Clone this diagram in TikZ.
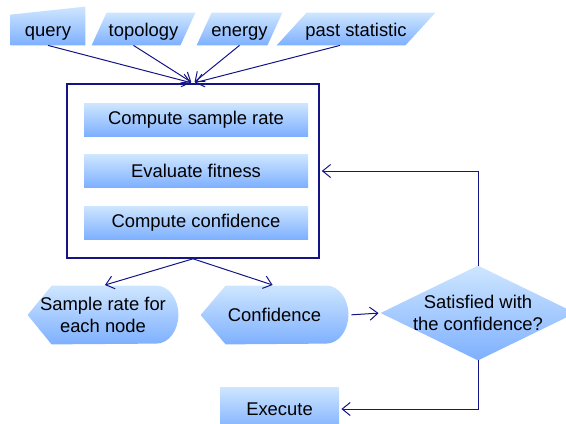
\documentclass[tikz,border=0pt]{standalone}
\usepackage{fontspec}
\setmainfont{Liberation Sans}
\usetikzlibrary{arrows.meta,backgrounds}
\definecolor{flowblue}{RGB}{20,20,135}
\definecolor{shtop}{RGB}{206,230,255}
\definecolor{shbot}{RGB}{126,176,255}
\tikzset{
  shaded/.style={top color=shtop,bottom color=shbot},
  txt/.style={inner sep=0pt,align=center,font=\fontsize{9.2}{11}\selectfont},
  inbox/.style={txt,minimum height=16pt,text height=9pt,text depth=2pt},
  stepbox/.style={txt,shaded,minimum width=112pt,minimum height=16.5pt},
  flow/.style={draw=flowblue,line width=0.5pt,-{Straight Barb[length=4pt,width=6.5pt]},shorten >=1pt}
}
\begin{document}
\begin{tikzpicture}[x=0.5pt,y=-0.5pt]
\useasboundingbox (0,0) rectangle (566,423);
\clip (0,0) rectangle (566,423);
% inputs
\node[inbox,minimum width=37pt] (query) at (48,29) {query};
\node[inbox,minimum width=51.5pt] (topology) at (143.5,29) {topology};
\node[inbox,minimum width=42.5pt] (energy) at (239.5,29) {energy};
\node[inbox,minimum width=79pt] (past) at (356,29) {past statistic};
% main box
\node[draw=flowblue,line width=0.8pt,minimum width=126pt,minimum height=87pt] (proc) at (193,171) {};
\foreach \n/\y/\t in {csr/119.5/Compute sample rate,evf/171/Evaluate fitness,ccf/222.5/Compute confidence}{\node[stepbox] (\n) at (196,\y) {\t};}
% outputs
\node[txt,minimum width=75pt,minimum height=29pt] (rate) at (103,315) {\raisebox{-1.5pt}{Sample rate for}\\\raisebox{-1.5pt}{each node}};
\node[txt,minimum width=73.5pt,minimum height=29pt] (conf) at (274.5,315) {Confidence};
\node[txt,minimum width=97pt,minimum height=47pt] (sat) at (478,313) {Satisfied with\\the confidence?};
\node[txt,shaded,minimum width=59.5pt,minimum height=22pt] (exec) at (279.5,409) {Execute};
% shapes behind the texts
\begin{scope}[on background layer]
\clip (0,0) rectangle (566,423);
\shade[shaded] (query.south west) -- ([yshift=-1pt]query.north west) -- ([yshift=3pt]query.north east) -- (query.south east) -- cycle;
\foreach \n/\s in {topology/7.5pt,energy/7.5pt,past/15pt}{\shade[shaded] (\n.south west) -- ([xshift=\s]\n.north west) -- (\n.north east) -- ([xshift=-\s]\n.south east) -- cycle;}
\foreach \n/\s in {rate/12pt,conf/12.5pt}{\shade[shaded] (\n.west) -- ([xshift=\s]\n.north west) -- ([xshift=-11pt]\n.north east) arc[start angle=90,end angle=-90,x radius=11pt,y radius=14.5pt] -- ([xshift=\s]\n.south west) -- cycle;}
\shade[shaded] (sat.west) -- (sat.north) -- (sat.east) -- (sat.south) -- cycle;
\end{scope}
% connectors
\foreach \n/\dx in {query/0,topology/-5,energy/0,past/-8}{\draw[flow] ([xshift=\dx pt]\n.south) -- (proc.north);}
\draw[flow] (proc.south) -- (rate.north);
\draw[flow] (proc.south) -- (conf.north);
\draw[flow,shorten <=1.5pt] (conf.east) -- (sat.west);
\draw[flow] (sat.north) |- (proc.east);
\draw[flow] (sat.south) |- (exec.east);
\end{tikzpicture}
\end{document}
